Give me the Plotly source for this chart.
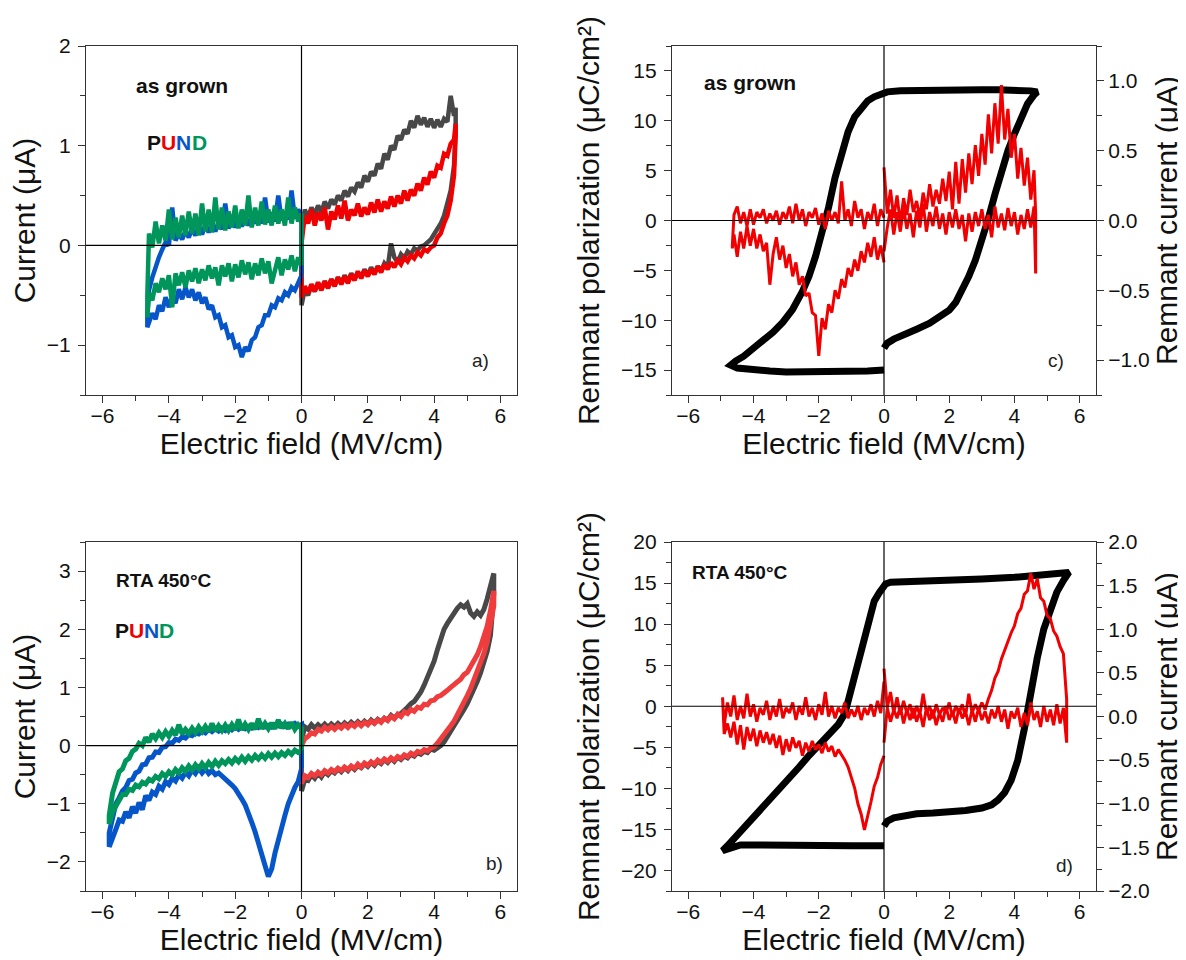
import plotly.graph_objects as go

# ---------------- field grids (MV/cm) ----------------
E_A_POS = [0.0, 0.1, 0.2, 0.3, 0.4, 0.5, 0.6, 0.7, 0.8, 0.9,
           1.0, 1.1, 1.2, 1.3, 1.4, 1.5, 1.6, 1.7, 1.8, 1.9,
           2.0, 2.1, 2.2, 2.3, 2.4, 2.5, 2.6, 2.7, 2.8, 2.9,
           3.0, 3.1, 3.2, 3.3, 3.4, 3.5, 3.6, 3.7, 3.8, 3.9,
           4.0, 4.1, 4.2, 4.3, 4.4, 4.5, 4.6, 4.65]
E_A_NEG = [0.0, -0.1, -0.2, -0.3, -0.4, -0.5, -0.6, -0.7, -0.8, -0.9,
           -1.0, -1.1, -1.2, -1.3, -1.4, -1.5, -1.6, -1.7, -1.8, -1.9,
           -2.0, -2.1, -2.2, -2.3, -2.4, -2.5, -2.6, -2.7, -2.8, -2.9,
           -3.0, -3.1, -3.2, -3.3, -3.4, -3.5, -3.6, -3.7, -3.8, -3.9,
           -4.0, -4.1, -4.2, -4.3, -4.4, -4.5, -4.6, -4.65]
E_B_POS = [0.0, 0.1, 0.2, 0.3, 0.4, 0.5, 0.6, 0.7, 0.8, 0.9,
           1.0, 1.1, 1.2, 1.3, 1.4, 1.5, 1.6, 1.7, 1.8, 1.9,
           2.0, 2.1, 2.2, 2.3, 2.4, 2.5, 2.6, 2.7, 2.8, 2.9,
           3.0, 3.1, 3.2, 3.3, 3.4, 3.5, 3.6, 3.7, 3.8, 3.9,
           4.0, 4.1, 4.2, 4.3, 4.4, 4.5, 4.6, 4.7, 4.8, 4.9,
           5.0, 5.1, 5.2, 5.3, 5.4, 5.5, 5.6, 5.7, 5.8]
E_B_NEG = [0.0, -0.1, -0.2, -0.3, -0.4, -0.5, -0.6, -0.7, -0.8, -0.9,
           -1.0, -1.1, -1.2, -1.3, -1.4, -1.5, -1.6, -1.7, -1.8, -1.9,
           -2.0, -2.1, -2.2, -2.3, -2.4, -2.5, -2.6, -2.7, -2.8, -2.9,
           -3.0, -3.1, -3.2, -3.3, -3.4, -3.5, -3.6, -3.7, -3.8, -3.9,
           -4.0, -4.1, -4.2, -4.3, -4.4, -4.5, -4.6, -4.7, -4.8, -4.9,
           -5.0, -5.1, -5.2, -5.3, -5.4, -5.5, -5.6, -5.7, -5.8]
E_D_POS = [0.0, 0.1, 0.2, 0.3, 0.4, 0.5, 0.6, 0.7, 0.8, 0.9,
           1.0, 1.1, 1.2, 1.3, 1.4, 1.5, 1.6, 1.7, 1.8, 1.9,
           2.0, 2.1, 2.2, 2.3, 2.4, 2.5, 2.6, 2.7, 2.8, 2.9,
           3.0, 3.1, 3.2, 3.3, 3.4, 3.5, 3.6, 3.7, 3.8, 3.9,
           4.0, 4.1, 4.2, 4.3, 4.4, 4.5, 4.6, 4.7, 4.8, 4.9,
           5.0, 5.1, 5.2, 5.3, 5.4, 5.5, 5.6]
E_D_NEG = [0.0, -0.1, -0.2, -0.3, -0.4, -0.5, -0.6, -0.7, -0.8, -0.9,
           -1.0, -1.1, -1.2, -1.3, -1.4, -1.5, -1.6, -1.7, -1.8, -1.9,
           -2.0, -2.1, -2.2, -2.3, -2.4, -2.5, -2.6, -2.7, -2.8, -2.9,
           -3.0, -3.1, -3.2, -3.3, -3.4, -3.5, -3.6, -3.7, -3.8, -3.9,
           -4.0, -4.1, -4.2, -4.3, -4.4, -4.5, -4.6, -4.7, -4.8, -4.9,
           -4.95]

# ---------------- panel a: as grown PUND currents (uA) ----------------
P_UP_A = [0.10, 0.36, 0.28, 0.38, 0.31, 0.40, 0.33, 0.44, 0.37, 0.46,
          0.41, 0.50, 0.45, 0.55, 0.49, 0.58, 0.54, 0.63, 0.58, 0.70,
          0.64, 0.74, 0.70, 0.82, 0.77, 0.92, 0.86, 1.00, 0.96, 1.10,
          1.06, 1.16, 1.12, 1.25, 1.18, 1.30, 1.21, 1.28, 1.19, 1.27,
          1.18, 1.26, 1.19, 1.27, 1.24, 1.50, 1.30, 1.38]
P_DN_A = [-0.60, -0.44, -0.50, -0.40, -0.46, -0.38, -0.44, -0.36, -0.42, -0.34,
          -0.40, -0.32, -0.38, -0.30, -0.36, -0.28, -0.34, -0.27, -0.32, -0.24,
          -0.30, -0.22, -0.28, -0.21, -0.26, -0.18, -0.22, 0.02, -0.12, -0.17,
          -0.09, -0.13, -0.06, -0.09, -0.03, -0.05, -0.01, 0.00, 0.03, 0.06,
          0.10, 0.16, 0.22, 0.30, 0.40, 0.55, 0.80, 1.20]
U_UP_A = [0.02, 0.30, 0.22, 0.36, 0.20, 0.33, 0.25, 0.38, 0.16, 0.34,
          0.26, 0.40, 0.27, 0.45, 0.25, 0.36, 0.30, 0.42, 0.29, 0.38,
          0.31, 0.43, 0.33, 0.46, 0.34, 0.44, 0.37, 0.49, 0.39, 0.50,
          0.42, 0.55, 0.45, 0.56, 0.50, 0.62, 0.55, 0.68, 0.61, 0.74,
          0.68, 0.80, 0.78, 0.92, 0.90, 1.02, 1.06, 1.22]
U_DN_A = [-0.52, -0.41, -0.48, -0.39, -0.46, -0.37, -0.45, -0.36, -0.43, -0.34,
          -0.41, -0.32, -0.39, -0.31, -0.38, -0.29, -0.35, -0.26, -0.33, -0.25,
          -0.31, -0.24, -0.29, -0.21, -0.27, -0.19, -0.24, -0.17, -0.22, -0.15,
          -0.19, -0.12, -0.16, -0.10, -0.13, -0.07, -0.10, -0.04, -0.06, -0.02,
          0.00, 0.08, 0.12, 0.22, 0.30, 0.45, 0.70, 1.10]
N_OUT_A = [-0.30, -0.38, -0.45, -0.42, -0.50, -0.47, -0.55, -0.53, -0.62, -0.60,
           -0.70, -0.70, -0.80, -0.82, -0.92, -0.95, -1.06, -1.02, -1.12, -1.00,
           -1.02, -0.90, -0.92, -0.80, -0.82, -0.70, -0.72, -0.60, -0.64, -0.52,
           -0.58, -0.47, -0.55, -0.44, -0.52, -0.42, -0.54, -0.44, -0.58, -0.50,
           -0.62, -0.52, -0.66, -0.60, -0.74, -0.68, -0.80, -0.82]
N_BACK_A = [0.30, 0.36, 0.27, 0.55, 0.26, 0.34, 0.25, 0.50, 0.24, 0.33,
            0.23, 0.48, 0.22, 0.31, 0.22, 0.30, 0.20, 0.29, 0.19, 0.28,
            0.18, 0.26, 0.17, 0.42, 0.16, 0.24, 0.14, 0.22, 0.13, 0.21,
            0.11, 0.19, 0.10, 0.17, 0.08, 0.15, 0.06, 0.12, 0.05, 0.38,
            0.00, 0.03, -0.04, -0.12, -0.20, -0.32, -0.45, -0.70]
D_OUT_A = [-0.20, -0.12, -0.26, -0.10, -0.24, -0.14, -0.30, -0.12, -0.25, -0.38,
           -0.16, -0.28, -0.13, -0.30, -0.18, -0.34, -0.17, -0.29, -0.15, -0.32,
           -0.19, -0.36, -0.18, -0.31, -0.20, -0.40, -0.22, -0.33, -0.20, -0.35,
           -0.24, -0.38, -0.23, -0.36, -0.25, -0.42, -0.27, -0.40, -0.28, -0.62,
           -0.30, -0.44, -0.33, -0.47, -0.38, -0.55, -0.48, -0.72]
D_BACK_A = [0.32, 0.24, 0.38, 0.22, 0.48, 0.20, 0.36, 0.22, 0.40, 0.20,
            0.36, 0.21, 0.44, 0.20, 0.38, 0.18, 0.50, 0.20, 0.36, 0.17,
            0.40, 0.18, 0.34, 0.15, 0.38, 0.16, 0.48, 0.13, 0.36, 0.14,
            0.42, 0.10, 0.32, 0.12, 0.34, 0.10, 0.30, 0.08, 0.28, 0.06,
            0.36, 0.05, 0.20, 0.02, 0.24, -0.02, 0.12, -0.50]

# ---------------- panel b: RTA 450 C PUND currents (uA) ----------------
P_UP_B = [0.10, 0.32, 0.28, 0.36, 0.30, 0.36, 0.31, 0.37, 0.31, 0.37,
          0.32, 0.38, 0.33, 0.39, 0.34, 0.40, 0.35, 0.41, 0.36, 0.42,
          0.37, 0.44, 0.39, 0.45, 0.41, 0.47, 0.44, 0.52, 0.47, 0.53,
          0.55, 0.62, 0.66, 0.72, 0.76, 0.84, 0.92, 1.04, 1.18, 1.32,
          1.45, 1.65, 1.86, 2.00, 2.10, 2.20, 2.28, 2.36, 2.42, 2.38,
          2.44, 2.28, 2.22, 2.30, 2.24, 2.34, 2.52, 2.72, 2.96]
P_DN_B = [-0.78, -0.58, -0.60, -0.50, -0.56, -0.47, -0.54, -0.45, -0.50, -0.43,
          -0.47, -0.40, -0.45, -0.38, -0.43, -0.36, -0.41, -0.34, -0.38, -0.31,
          -0.36, -0.29, -0.34, -0.27, -0.31, -0.24, -0.29, -0.22, -0.27, -0.20,
          -0.24, -0.18, -0.21, -0.15, -0.18, -0.12, -0.15, -0.10, -0.12, -0.06,
          -0.08, -0.04, 0.00, 0.06, 0.14, 0.24, 0.34, 0.42, 0.52, 0.62,
          0.72, 0.84, 0.96, 1.10, 1.25, 1.42, 1.62, 1.90, 2.60]
U_UP_B = [0.00, 0.12, 0.16, 0.22, 0.20, 0.28, 0.25, 0.32, 0.27, 0.33,
          0.28, 0.34, 0.30, 0.36, 0.31, 0.37, 0.33, 0.39, 0.34, 0.40,
          0.36, 0.42, 0.38, 0.44, 0.40, 0.47, 0.43, 0.50, 0.46, 0.54,
          0.50, 0.58, 0.55, 0.62, 0.59, 0.66, 0.64, 0.71, 0.70, 0.77,
          0.78, 0.84, 0.86, 0.92, 0.95, 1.00, 1.04, 1.10, 1.14, 1.22,
          1.26, 1.36, 1.45, 1.56, 1.70, 1.86, 2.05, 2.32, 2.66]
U_DN_B = [-0.65, -0.52, -0.55, -0.48, -0.52, -0.46, -0.50, -0.43, -0.47, -0.41,
          -0.45, -0.39, -0.43, -0.37, -0.41, -0.35, -0.39, -0.32, -0.37, -0.30,
          -0.34, -0.28, -0.32, -0.25, -0.29, -0.23, -0.27, -0.21, -0.25, -0.19,
          -0.22, -0.16, -0.19, -0.13, -0.16, -0.10, -0.12, -0.07, -0.09, -0.04,
          -0.02, 0.04, 0.10, 0.18, 0.26, 0.34, 0.42, 0.52, 0.62, 0.74,
          0.86, 0.98, 1.12, 1.26, 1.42, 1.58, 1.78, 2.02, 2.40]
N_OUT_B = [-0.40, -0.62, -0.72, -0.85, -1.00, -1.20, -1.40, -1.62, -1.85, -2.12,
           -2.25, -2.06, -1.84, -1.66, -1.48, -1.32, -1.16, -1.02, -0.92, -0.82,
           -0.74, -0.68, -0.62, -0.56, -0.52, -0.47, -0.50, -0.43, -0.48, -0.40,
           -0.47, -0.39, -0.48, -0.42, -0.52, -0.46, -0.56, -0.50, -0.61, -0.56,
           -0.67, -0.62, -0.75, -0.70, -0.84, -0.80, -0.94, -0.86, -1.10, -0.98,
           -1.16, -1.05, -1.24, -1.14, -1.30, -1.28, -1.44, -1.58, -1.74]
N_BACK_B = [0.36, 0.33, 0.38, 0.34, 0.37, 0.33, 0.37, 0.34, 0.36, 0.32,
            0.35, 0.32, 0.35, 0.31, 0.34, 0.30, 0.33, 0.29, 0.33, 0.28,
            0.32, 0.27, 0.31, 0.26, 0.30, 0.25, 0.29, 0.24, 0.28, 0.22,
            0.25, 0.20, 0.22, 0.17, 0.19, 0.13, 0.15, 0.09, 0.11, 0.04,
            0.05, -0.02, -0.03, -0.12, -0.11, -0.20, -0.21, -0.32, -0.33, -0.44,
            -0.47, -0.58, -0.60, -0.72, -0.78, -0.90, -1.00, -1.20, -1.50]
D_OUT_B = [-0.08, -0.12, -0.08, -0.15, -0.10, -0.17, -0.12, -0.19, -0.13, -0.20,
           -0.14, -0.22, -0.16, -0.23, -0.17, -0.25, -0.19, -0.27, -0.20, -0.28,
           -0.22, -0.30, -0.24, -0.31, -0.26, -0.34, -0.27, -0.36, -0.29, -0.38,
           -0.31, -0.40, -0.33, -0.42, -0.35, -0.44, -0.38, -0.47, -0.41, -0.50,
           -0.45, -0.53, -0.48, -0.57, -0.53, -0.61, -0.58, -0.66, -0.63, -0.71,
           -0.68, -0.77, -0.75, -0.84, -0.84, -0.94, -1.00, -1.14, -1.35]
D_BACK_B = [0.30, 0.36, 0.28, 0.40, 0.29, 0.38, 0.30, 0.44, 0.29, 0.39,
            0.29, 0.38, 0.29, 0.46, 0.28, 0.38, 0.28, 0.37, 0.27, 0.45,
            0.27, 0.36, 0.26, 0.35, 0.26, 0.34, 0.25, 0.38, 0.24, 0.33,
            0.24, 0.32, 0.22, 0.30, 0.21, 0.28, 0.20, 0.36, 0.18, 0.26,
            0.16, 0.24, 0.14, 0.22, 0.12, 0.20, 0.06, 0.14, 0.00, 0.04,
            -0.06, -0.10, -0.22, -0.26, -0.40, -0.45, -0.60, -0.82, -1.20]

# ---------------- panel c: as grown P-E loop (uC/cm2) and remnant current (uA) ----------------
E_LOOP_C = [0.0, 0.1, 0.3, 0.6, 1.0, 1.4, 1.8, 2.0, 2.2, 2.4, 2.6, 2.8, 3.0, 3.2, 3.4, 3.6, 3.8, 4.0, 4.2, 4.4, 4.6, 4.7,
            4.5, 4.0, 3.5, 3.0, 2.5, 2.0, 1.5, 1.0, 0.5, 0.1,
            0.0, -0.1, -0.3, -0.5, -0.7, -0.9, -1.1, -1.3, -1.5, -1.7, -1.9, -2.1, -2.3, -2.5, -2.8, -3.1, -3.4, -3.7, -4.0, -4.3, -4.55, -4.7,
            -4.5, -4.0, -3.5, -3.0, -2.5, -2.0, -1.5, -1.0, -0.5, 0.0]
P_LOOP_C = [-12.8, -12.3, -11.9, -11.4, -10.9, -10.3, -9.5, -9.0, -8.2, -7.0, -5.6, -4.0, -2.0, 0.2, 2.6, 5.0, 7.0, 8.7, 10.4, 11.7, 12.6, 12.9,
            13.0, 13.1, 13.1, 13.1, 13.1, 13.1, 13.1, 13.0, 13.0, 12.9,
            12.8, 12.7, 12.4, 12.0, 11.3, 10.4, 8.9, 6.8, 4.3, 1.3, -1.4, -3.6, -5.6, -7.1, -8.9, -10.2, -11.2, -12.0, -12.9, -13.6, -14.1, -14.5,
            -14.8, -15.0, -15.1, -15.2, -15.2, -15.2, -15.2, -15.1, -15.1, -15.0]
C_I_UP = [0.38, 0.05, 0.22, 0.02, 0.18, -0.02, 0.16, 0.04, 0.22, 0.06,
          0.14, 0.02, 0.20, 0.08, 0.26, 0.10, 0.22, 0.12, 0.30, 0.14,
          0.35, 0.08, 0.42, 0.12, 0.44, 0.20, 0.48, 0.26, 0.54, 0.32,
          0.62, 0.40, 0.76, 0.48, 0.84, 0.55, 0.97, 0.58, 0.80, 0.45,
          0.62, 0.30, 0.52, 0.25, 0.45, 0.15, 0.36, 0.05]
C_I_DN = [-0.22, -0.05, 0.08, -0.10, 0.06, -0.08, 0.09, -0.06, 0.05, -0.12,
          0.07, -0.05, 0.12, -0.08, 0.06, -0.04, 0.10, -0.06, 0.05, -0.10,
          0.06, -0.05, 0.08, -0.06, 0.04, -0.15, 0.05, -0.08, 0.06, -0.04,
          0.08, -0.06, 0.04, -0.12, 0.10, -0.05, 0.05, -0.07, 0.09, -0.04,
          0.06, -0.10, 0.04, -0.06, 0.08, -0.05, 0.10, -0.38]
C_I_OUT = [-0.30, -0.18, -0.28, -0.12, -0.26, -0.16, -0.30, -0.22, -0.36, -0.28,
           -0.40, -0.34, -0.48, -0.42, -0.56, -0.50, -0.66, -0.60, -0.78, -0.70,
           -0.97, -0.68, -0.66, -0.52, -0.54, -0.40, -0.46, -0.30, -0.40, -0.24,
           -0.34, -0.18, -0.28, -0.12, -0.24, -0.46, -0.16, -0.22, -0.10, -0.20,
           -0.06, -0.18, -0.04, -0.20, -0.08, -0.26, -0.10, -0.20]
C_I_BACK = [0.02, 0.08, -0.04, 0.12, 0.00, 0.06, -0.06, 0.08, 0.02, 0.14,
            -0.04, 0.08, 0.00, 0.28, -0.02, 0.06, 0.00, 0.07, -0.06, 0.05,
            -0.03, 0.09, 0.02, 0.06, -0.04, 0.08, 0.00, 0.12, -0.02, 0.10,
            0.01, 0.06, -0.03, 0.07, 0.00, 0.05, -0.02, 0.08, 0.02, 0.06,
            -0.03, 0.08, -0.04, 0.06, -0.02, 0.10, 0.04, -0.18]

# ---------------- panel d: RTA 450 C P-E loop and remnant current ----------------
E_LOOP_D = [0.0, 0.1, 0.3, 0.6, 1.0, 1.5, 2.0, 2.5, 3.0, 3.3, 3.5, 3.7, 3.9, 4.1, 4.3, 4.5, 4.7, 4.9, 5.1, 5.3, 5.5, 5.67,
            5.4, 5.0, 4.5, 4.0, 3.0, 2.0, 1.0, 0.5, 0.2, 0.05,
            0.0, -0.05, -0.15, -0.3, -0.4, -0.5, -0.6, -0.7, -0.8, -0.9, -1.0, -1.1, -1.2, -1.4, -1.6, -1.8, -2.0, -2.3, -2.6, -3.0, -3.5, -4.0, -4.5, -4.8, -4.95,
            -4.7, -4.4, -4.0, -3.0, -2.0, -1.0, -0.5, 0.0]
P_LOOP_D = [-14.6, -14.0, -13.6, -13.3, -13.1, -13.0, -12.9, -12.7, -12.4, -12.0, -11.4, -10.5, -9.0, -6.6, -2.8, 2.0, 5.9, 9.4, 11.9, 13.9, 15.3, 16.3,
            16.2, 16.0, 15.8, 15.7, 15.5, 15.4, 15.3, 15.2, 15.1, 14.9,
            14.7, 14.5, 13.8, 12.8, 11.3, 9.5, 7.6, 6.0, 4.8, 3.4, 1.8, 0.3, -0.9, -2.2, -3.0, -3.7, -4.6, -6.0, -7.4, -9.2, -11.3, -13.5, -15.7, -17.0, -17.6,
            -17.2, -16.9, -16.9, -17.0, -17.1, -17.0, -17.0, -17.0]
D_I_UP = [0.55, 0.10, 0.28, 0.04, 0.22, 0.02, 0.18, 0.04, 0.14, -0.02,
          0.12, 0.02, 0.26, 0.04, 0.12, -0.02, 0.14, 0.02, 0.10, 0.04,
          0.16, 0.00, 0.12, 0.04, 0.14, 0.00, 0.26, 0.04, 0.14, 0.06,
          0.16, 0.08, 0.20, 0.30, 0.44, 0.52, 0.66, 0.76, 0.88, 0.96,
          1.04, 1.18, 1.24, 1.40, 1.44, 1.64, 1.46, 1.58, 1.36, 1.32,
          1.16, 1.12, 0.98, 0.92, 0.80, 0.72, 0.20]
D_I_DN = [-0.30, 0.10, -0.06, 0.08, -0.02, 0.12, -0.08, 0.08, -0.04, 0.10,
          -0.06, 0.06, -0.12, 0.10, -0.04, 0.08, -0.10, 0.04, -0.06, 0.12,
          -0.04, 0.06, -0.08, 0.10, -0.02, 0.06, -0.10, 0.08, -0.06, 0.10,
          -0.04, 0.06, -0.08, 0.08, -0.02, 0.12, -0.06, 0.08, -0.14, 0.06,
          -0.02, 0.10, -0.12, 0.04, -0.10, 0.16, -0.04, 0.06, -0.12, 0.12,
          -0.06, 0.08, -0.10, 0.14, -0.08, 0.10, -0.30]
D_I_OUT = [-0.45, -0.55, -0.70, -0.80, -0.98, -1.15, -1.30, -1.12, -1.00, -0.82,
           -0.70, -0.58, -0.50, -0.44, -0.38, -0.46, -0.34, -0.40, -0.30, -0.42,
           -0.32, -0.38, -0.28, -0.40, -0.30, -0.45, -0.28, -0.36, -0.24, -0.40,
           -0.26, -0.44, -0.22, -0.36, -0.20, -0.32, -0.18, -0.30, -0.16, -0.34,
           -0.14, -0.28, -0.12, -0.38, -0.10, -0.32, -0.06, -0.24, -0.08, -0.20,
           0.10]
D_I_BACK = [0.40, 0.04, 0.18, 0.00, 0.14, 0.02, 0.10, -0.04, 0.12, 0.00,
            0.08, -0.02, 0.16, 0.04, 0.10, -0.02, 0.12, 0.00, 0.28, 0.02,
            0.14, -0.04, 0.10, 0.00, 0.22, 0.02, 0.12, -0.04, 0.16, 0.04,
            0.10, -0.02, 0.20, 0.00, 0.12, -0.04, 0.18, 0.02, 0.10, -0.06,
            0.14, 0.00, 0.26, -0.02, 0.12, -0.04, 0.24, 0.00, 0.16, -0.10,
            0.22]

# ---------------- labels ----------------
X_TITLE = "Electric field (MV/cm)"
Y_TITLE_CUR = "Current (\u03bcA)"
Y_TITLE_POL = "Remnant polarization (\u03bcC/cm\u00b2)"
Y_TITLE_REM = "Remnant current (\u03bcA)"
LABEL_AS_GROWN = "as grown"
LABEL_RTA = "RTA 450\u00b0C"
PUND_LETTERS = ["P", "U", "N", "D"]
PANEL_TAGS = ["a)", "b)", "c)", "d)"]

GRAY = "#484848"
RED = "#f00000"
RED_B = "#ef3d3d"
BLUE = "#0656c9"
GREEN = "#00955a"
PUND_COLORS = ["#111111", RED, BLUE, GREEN]
FONT = "Arial"


def closed_loop(x, out_branch, back_branch):
    xs = x + x[::-1] + [x[0]]
    ys = out_branch + back_branch[::-1] + [out_branch[0]]
    return xs, ys


def open_loop(x, out_branch, back_branch):
    return x + x[::-1], out_branch + back_branch[::-1]


fig = go.Figure()


def add_line(xs, ys, color, width, xa, ya):
    fig.add_trace(go.Scatter(x=xs, y=ys, mode="lines", xaxis=xa, yaxis=ya,
                             line=dict(color=color, width=width),
                             showlegend=False, hoverinfo="skip"))


# panel a
for (up, dn, col) in [(P_UP_A, P_DN_A, GRAY), (U_UP_A, U_DN_A, RED)]:
    xs, ys = closed_loop(E_A_POS, up, dn)
    add_line(xs, ys, col, 4.5, "x", "y")
for (out, back, col) in [(N_OUT_A, N_BACK_A, BLUE), (D_OUT_A, D_BACK_A, GREEN)]:
    xs, ys = closed_loop(E_A_NEG, out, back)
    add_line(xs, ys, col, 4.5, "x", "y")

# panel b
for (up, dn, col) in [(P_UP_B, P_DN_B, GRAY), (U_UP_B, U_DN_B, RED_B)]:
    xs, ys = closed_loop(E_B_POS, up, dn)
    add_line(xs, ys, col, 5, "x3", "y4")
for (out, back, col) in [(N_OUT_B, N_BACK_B, BLUE), (D_OUT_B, D_BACK_B, GREEN)]:
    xs, ys = closed_loop(E_B_NEG, out, back)
    add_line(xs, ys, col, 5, "x3", "y4")

# panel c
add_line(E_LOOP_C, P_LOOP_C, "black", 7, "x2", "y2")
xs, ys = open_loop(E_A_POS, C_I_UP, C_I_DN)
add_line(xs, ys, RED, 3, "x2", "y3")
xs, ys = open_loop(E_A_NEG, C_I_OUT, C_I_BACK)
add_line(xs, ys, RED, 3, "x2", "y3")

# panel d
add_line(E_LOOP_D, P_LOOP_D, "black", 7, "x4", "y5")
xs, ys = open_loop(E_D_POS, D_I_UP, D_I_DN)
add_line(xs, ys, RED, 3, "x4", "y6")
xs, ys = open_loop(E_D_NEG, D_I_OUT, D_I_BACK)
add_line(xs, ys, RED, 3, "x4", "y6")

# ---------------- axes ----------------
W, H = 1186, 960
LEFT_X = [78 / W, 509 / W]
RIGHT_X = [664 / W, 1088 / W]
TOP_Y = [1 - 387 / H, 1 - 38 / H]
BOT_Y = [1 - 883 / H, 1 - 534 / H]

tick_font = dict(family=FONT, size=21, color="#111111")
title_font = dict(family=FONT, size=30, color="#111111")


def axis(minor_step, **kw):
    base = dict(showline=True, linecolor="#333333", linewidth=1.3, mirror=True,
                ticks="outside", ticklen=7, tickwidth=1.3, tickcolor="#333333",
                showgrid=False, zeroline=False, tickfont=tick_font, automargin=False,
                minor=dict(ticks="outside", ticklen=4.5, tickwidth=1.2,
                           tickcolor="#333333", dtick=minor_step, showgrid=False))
    base.update(kw)
    return base


def xaxis_spec(domain, anchor):
    return axis(1, domain=domain, anchor=anchor, range=[-6.5, 6.5], dtick=2, tick0=0,
                ticklabelstandoff=-5,
                title=dict(text=X_TITLE, font=title_font, standoff=2))


fig.update_layout(
    width=W, height=H, margin=dict(l=0, r=0, t=0, b=0),
    paper_bgcolor="white", plot_bgcolor="white", showlegend=False,
    xaxis=xaxis_spec(LEFT_X, "y"),
    yaxis=axis(0.5, domain=TOP_Y, anchor="x", range=[-1.5, 2], dtick=1, tick0=0,
               ticklabelstandoff=3,
               title=dict(text=Y_TITLE_CUR, font=title_font, standoff=5)),
    xaxis2=xaxis_spec(RIGHT_X, "y2"),
    yaxis2=axis(2.5, domain=TOP_Y, anchor="x2", range=[-17.5, 17.5], dtick=5, tick0=0,
                mirror=False, ticklabelstandoff=3,
                title=dict(text=Y_TITLE_POL, font=title_font, standoff=12)),
    yaxis3=axis(0.25, domain=TOP_Y, anchor="x2", overlaying="y2", side="right",
                range=[-1.25, 1.25], dtick=0.5, tick0=0,
                tickformat=".1f", mirror=False,
                title=dict(text=Y_TITLE_REM, font=title_font, standoff=6)),
    xaxis3=xaxis_spec(LEFT_X, "y4"),
    yaxis4=axis(0.5, domain=BOT_Y, anchor="x3", range=[-2.5, 3.5], dtick=1, tick0=0,
                ticklabelstandoff=3,
                title=dict(text=Y_TITLE_CUR, font=title_font, standoff=5)),
    xaxis4=xaxis_spec(RIGHT_X, "y5"),
    yaxis5=axis(2.5, domain=BOT_Y, anchor="x4", range=[-22.5, 20], dtick=5, tick0=0,
                mirror=False, ticklabelstandoff=3,
                title=dict(text=Y_TITLE_POL, font=title_font, standoff=12)),
    yaxis6=axis(0.25, domain=BOT_Y, anchor="x4", overlaying="y5", side="right",
                range=[-2, 2], dtick=0.5, tick0=0,
                tickformat=".1f", mirror=False,
                title=dict(text=Y_TITLE_REM, font=title_font, standoff=6)),
)

# zero reference lines (drawn above data, thin black)
for xa, ya in [("x", "y"), ("x2", "y2"), ("x3", "y4"), ("x4", "y5")]:
    fig.add_shape(type="line", xref=xa, yref=ya + " domain", x0=0, x1=0, y0=0, y1=1,
                  line=dict(color="black", width=1.2), layer="above")
    fig.add_shape(type="line", xref=xa + " domain", yref=ya, x0=0, x1=1, y0=0, y1=0,
                  line=dict(color="black", width=1.2), layer="above")


# ---------------- text labels ----------------
def label(text, xa, ya, x, y, size, color="#111111", bold=False, xanchor="center", xshift=0):
    fig.add_annotation(text=("<b>%s</b>" % text) if bold else text,
                       xref=xa, yref=ya, x=x, y=y, showarrow=False,
                       font=dict(family=FONT, size=size, color=color),
                       xanchor=xanchor, yanchor="middle", xshift=xshift)


def pund(xa, ya, x, y):
    shifts = [-30, -16, -0.8, 14.4]
    for letter, col, sh in zip(PUND_LETTERS, PUND_COLORS, shifts):
        label(letter, xa, ya, x, y, 21, col, bold=True, xanchor="left", xshift=sh)


label(LABEL_AS_GROWN, "x", "y", -3.6, 1.60, 21, bold=True)
pund("x", "y", -3.81, 1.03)
label(PANEL_TAGS[0], "x", "y", 5.39, -1.15, 19, "#222222")

label(LABEL_RTA, "x3", "y4", -4.16, 2.83, 19, bold=True)
pund("x3", "y4", -4.79, 1.97)
label(PANEL_TAGS[1], "x3", "y4", 5.81, -2.03, 19, "#222222")

label(LABEL_AS_GROWN, "x2", "y2", -4.11, 13.85, 21, bold=True)
label(PANEL_TAGS[2], "x2", "y2", 5.26, -14.0, 19, "#222222")

label(LABEL_RTA, "x4", "y5", -4.42, 16.3, 19, bold=True)
label(PANEL_TAGS[3], "x4", "y5", 5.54, -19.4, 19, "#222222")

fig.write_html("out.html")
